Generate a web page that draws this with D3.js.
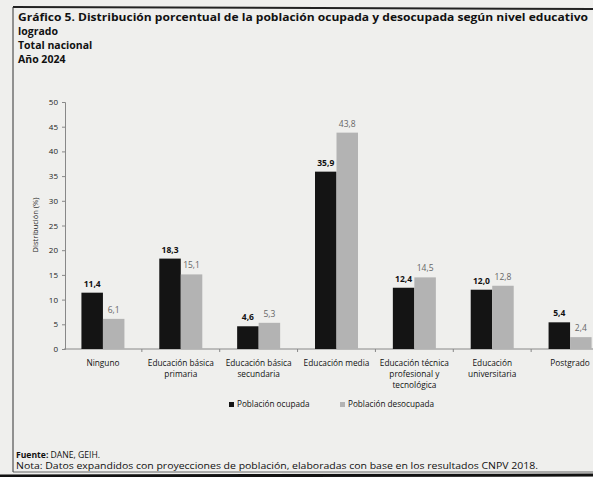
<!DOCTYPE html>
<html>
<head>
<meta charset="utf-8">
<script src="https://cdn.jsdelivr.net/npm/d3@7"></script>
<style>
  body { margin: 0; background: #efefed; }
  svg { display: block; font-family: "Open Sans", sans-serif; }
</style>
</head>
<body>
<svg id="chart" width="593" height="477"></svg>
<script>
// data
var categories = [
    ["Ninguno"],
    ["Educación básica", "primaria"],
    ["Educación básica", "secundaria"],
    ["Educación media"],
    ["Educación técnica", "profesional y", "tecnológica"],
    ["Educación", "universitaria"],
    ["Postgrado"]
];
var ocupada = [11.4, 18.3, 4.6, 35.9, 12.4, 12.0, 5.4];
var desocupada = [6.1, 15.1, 5.3, 43.8, 14.5, 12.8, 2.4];
var yTicks = [0, 5, 10, 15, 20, 25, 30, 35, 40, 45, 50];
var seriesNames = ["Población ocupada", "Población desocupada"];
var titleLines = [
    "Gráfico 5. Distribución porcentual de la población ocupada y desocupada según nivel educativo",
    "logrado",
    "Total nacional",
    "Año 2024"
];

var fmt = function(v) { return v.toFixed(1).replace(".", ","); };

var svg = d3.select("#chart");
var dark = "#141414", light = "#b3b3b3";

// frame of the scanned page
svg.append("line").attr("x1", 13).attr("x2", 593).attr("y1", 7).attr("y2", 9)
    .attr("stroke", "#222").attr("stroke-width", 2);
svg.append("line").attr("x1", 13).attr("x2", 13).attr("y1", 7).attr("y2", 472)
    .attr("stroke", "#333").attr("stroke-width", 1);
svg.append("line").attr("x1", 13).attr("x2", 593).attr("y1", 472).attr("y2", 472)
    .attr("stroke", "#444").attr("stroke-width", 0.8);
svg.append("line").attr("x1", 0).attr("x2", 593).attr("y1", 476).attr("y2", 475)
    .attr("stroke", "#111").attr("stroke-width", 3);

// title
svg.append("g").selectAll("text")
    .data(titleLines)
    .enter().append("text")
    .attr("x", 18)
    .attr("y", function(d, i) { return 21 + i * 14; })
    .attr("font-size", 10.5)
    .attr("font-weight", "bold")
    .attr("fill", "#111")
    .each(function(d, i) {
        if (i == 0) d3.select(this).attr("textLength", 570).attr("lengthAdjust", "spacingAndGlyphs");
    })
    .text(function(d) { return d; });

// scales
var x = d3.scaleBand()
    .domain(d3.range(categories.length))
    .range([64, 609])
    .paddingInner(0);
var y = d3.scaleLinear().domain([0, 50]).range([349, 102]);
var barW = 21.5;

// y axis
var yAxis = svg.append("g")
    .attr("transform", "translate(65,0)")
    .call(d3.axisLeft(y).tickValues(yTicks).tickSize(3).tickFormat(d3.format("d")));
yAxis.select(".domain").attr("stroke", "#888");
yAxis.selectAll(".tick line").attr("stroke", "#888");
yAxis.selectAll("text").attr("font-size", 8).attr("fill", "#222")
    .attr("font-family", "Open Sans, sans-serif").attr("x", -7);

svg.append("text")
    .attr("transform", "translate(38,225) rotate(-90)")
    .attr("text-anchor", "middle")
    .attr("font-size", 7.5)
    .attr("fill", "#222")
    .text("Distribución (%)");

// x axis with ticks on band edges
var xAxis = svg.append("g")
    .attr("transform", "translate(0,349)");
xAxis.append("line").attr("x1", 64).attr("x2", 593).attr("y1", 0).attr("y2", 0)
    .attr("stroke", "#888");
xAxis.selectAll(".edge")
    .data(d3.range(1, categories.length))
    .enter().append("line")
    .attr("class", "edge")
    .attr("x1", function(d) { return x(d); })
    .attr("x2", function(d) { return x(d); })
    .attr("y1", 0).attr("y2", 3)
    .attr("stroke", "#888");

// bars
var groups = svg.append("g").selectAll("g")
    .data(categories)
    .enter().append("g")
    .attr("transform", function(d, i) { return "translate(" + (x(i) + x.bandwidth() / 2) + ",0)"; });

groups.append("rect")
    .attr("x", -barW)
    .attr("width", barW)
    .attr("y", function(d, i) { return y(ocupada[i]); })
    .attr("height", function(d, i) { return y(0) - y(ocupada[i]); })
    .attr("fill", dark);

groups.append("rect")
    .attr("x", 0)
    .attr("width", barW)
    .attr("y", function(d, i) { return y(desocupada[i]); })
    .attr("height", function(d, i) { return y(0) - y(desocupada[i]); })
    .attr("fill", light);

groups.append("text")
    .attr("x", -barW / 2)
    .attr("y", function(d, i) { return y(ocupada[i]) - 6; })
    .attr("text-anchor", "middle")
    .attr("font-size", 8.5)
    .attr("font-weight", "bold")
    .attr("fill", "#111")
    .text(function(d, i) { return fmt(ocupada[i]); });

groups.append("text")
    .attr("x", barW / 2)
    .attr("y", function(d, i) { return y(desocupada[i]) - 6; })
    .attr("text-anchor", "middle")
    .attr("font-size", 8.5)
    .attr("fill", "#666")
    .text(function(d, i) { return fmt(desocupada[i]); });

// category labels
groups.append("text")
    .attr("text-anchor", "middle")
    .attr("font-size", 8.3)
    .attr("fill", "#111")
    .selectAll("tspan")
    .data(function(d) { return d; })
    .enter().append("tspan")
    .attr("x", 0)
    .attr("y", function(d, i) { return 366 + i * 11; })
    .text(function(d) { return d; });

// legend
var legend = svg.append("g").selectAll("g")
    .data(seriesNames)
    .enter().append("g")
    .attr("transform", function(d, i) { return "translate(" + (229 + i * 111) + ",407)"; });
legend.append("rect")
    .attr("x", 0).attr("y", -5).attr("width", 5).attr("height", 5)
    .attr("fill", function(d, i) { return i == 0 ? dark : light; });
legend.append("text")
    .attr("x", 8).attr("y", 0)
    .attr("font-size", 8.2)
    .attr("fill", "#111")
    .text(function(d) { return d; });

// footer
var fuente = svg.append("text").attr("x", 16).attr("y", 457.5).attr("font-size", 8.5)
    .attr("fill", "#111").attr("textLength", 84).attr("lengthAdjust", "spacingAndGlyphs");
fuente.append("tspan").attr("font-weight", "bold").text("Fuente:");
fuente.append("tspan").text(" DANE, GEIH.");
svg.append("text").attr("x", 16).attr("y", 469).attr("font-size", 8.5).attr("fill", "#111")
    .attr("textLength", 522).attr("lengthAdjust", "spacingAndGlyphs")
    .text("Nota: Datos expandidos con proyecciones de población, elaboradas con base en los resultados CNPV 2018.");
</script>
</body>
</html>
